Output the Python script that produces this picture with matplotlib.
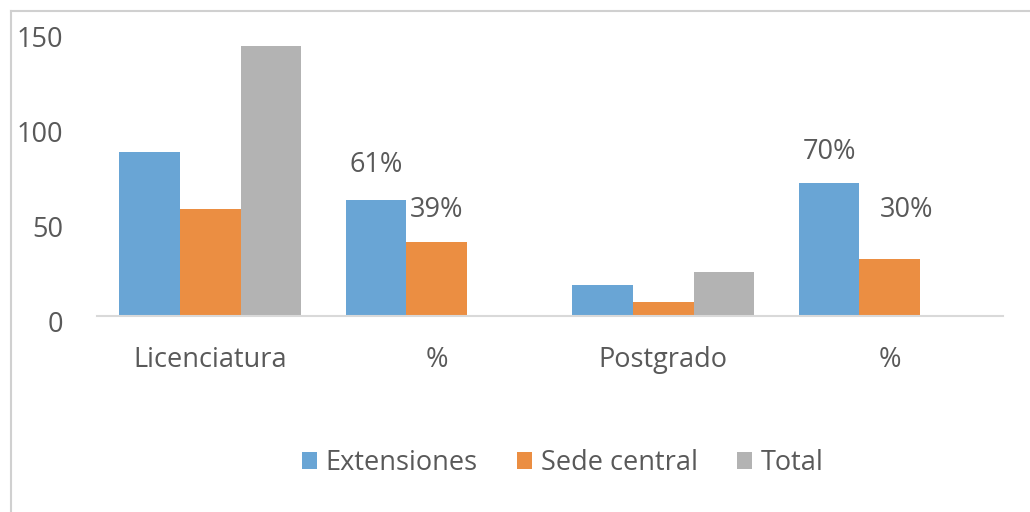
import numpy as np
import matplotlib
matplotlib.use("Agg")
import matplotlib.pyplot as plt
from matplotlib.lines import Line2D
from matplotlib.transforms import ScaledTranslation

categories = ["Licenciatura", "%", "Postgrado", "%"]
extensiones = [86, 61, 16, 70]
sede_central = [56, 39, 7, 30]
total = [142, np.nan, 23, np.nan]
series_names = ["Extensiones", "Sede central", "Total"]
y_ticks = [0, 50, 100, 150]

# data labels: (category index, series index, text)
pct_labels = [(1, 0, "61%"), (1, 1, "39%"), (3, 0, "70%"), (3, 1, "30%")]
# label offsets in pixels (dx, dy) above bar top
pct_offsets = [(0, 35), (0, 32), (0, 31), (17, 49)]

colors = ["#69A5D5", "#EB8E42", "#B3B3B3"]
text_color = "#595959"

plt.rcParams['font.family'] = ['Open Sans', 'DejaVu Sans']
FS = 19.5

fig = plt.figure(figsize=(10.30, 5.12), dpi=100)
ax = fig.add_axes([97/1030, 1 - 315.7/512, 906/1030, 285/512])

x = np.arange(len(categories))
w = 0.268
series = [extensiones, sede_central, total]
for i, (vals, name, c) in enumerate(zip(series, series_names, colors)):
    ax.bar(x + (i - 1) * w, vals, width=w, color=c, label=name, linewidth=0)

px = 72 / 100.0
for (ci, si, txt), (dx, dy) in zip(pct_labels, pct_offsets):
    val = series[si][ci]
    ax.annotate(txt, xy=(x[ci] + (si - 1) * w, val), xytext=(dx * px, dy * px),
                textcoords="offset points", ha="center", va="center",
                fontsize=FS, color=text_color)

ax.set_xlim(-0.5, len(categories) - 0.5)
ax.set_ylim(0, 150)
ax.set_yticks(y_ticks)
ax.set_xticks(x)
ax.set_xticklabels(categories)
for s in ["top", "right", "left"]:
    ax.spines[s].set_visible(False)
ax.spines["bottom"].set_color("#D9D9D9")
ax.spines["bottom"].set_linewidth(1.5)
ax.tick_params(axis="both", length=0, labelsize=FS, colors=text_color)
ax.tick_params(axis="y", pad=34 * px)
ax.tick_params(axis="x", pad=30 * px)
off = ScaledTranslation(0, -6/100, fig.dpi_scale_trans)
for lbl in ax.get_yticklabels():
    lbl.set_transform(lbl.get_transform() + off)

leg = fig.legend(loc="center", bbox_to_anchor=(563/1030, 1 - 463/512), ncol=3,
                 frameon=False, fontsize=FS, handlelength=0.55, handleheight=0.55,
                 handletextpad=0.33, columnspacing=1.45)
for t in leg.get_texts():
    t.set_color(text_color)

# chart frame (top and left edges visible)
fig.add_artist(Line2D([11/1030, 11/1030], [0, 1 - 11/512], transform=fig.transFigure,
                      color="#D0D0D0", linewidth=1.5))
fig.add_artist(Line2D([11/1030, 1], [1 - 11/512, 1 - 11/512], transform=fig.transFigure,
                      color="#D0D0D0", linewidth=1.5))

fig.savefig("out.png", dpi=100)
